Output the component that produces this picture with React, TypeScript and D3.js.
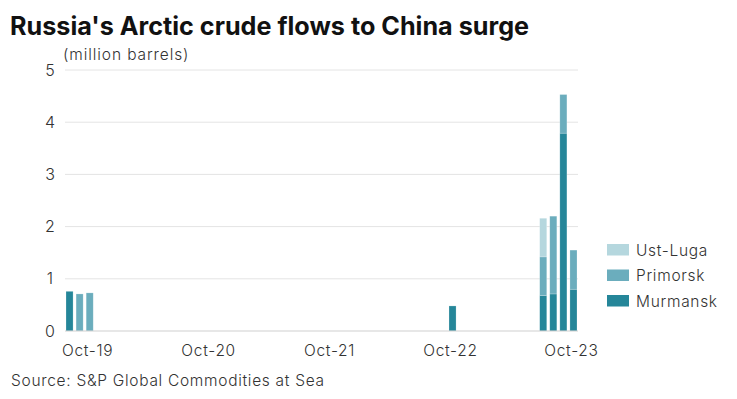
import * as d3 from "d3";
import React, { useEffect, useRef } from "react";

// Meses con flujos (el resto vale cero).
const months = ["2019-08", "2019-09", "2019-10", "2022-10", "2023-07", "2023-08", "2023-09", "2023-10"];
const murmansk = [0.76, 0, 0, 0.48, 0.68, 0.71, 3.79, 0.8];
const primorsk = [0, 0.71, 0.73, 0, 0.74, 1.49, 0.74, 0.75];
const ustLuga = [0, 0, 0, 0, 0.74, 0, 0, 0];

const seriesNames = ["Murmansk", "Primorsk", "Ust-Luga"];
const colors = ["#258699", "#6badbd", "#b5d7de"];
const tickLabels = ["Oct-19", "Oct-20", "Oct-21", "Oct-22", "Oct-23"];
const yTicks = [0, 1, 2, 3, 4, 5];

export default function App() {
  const ref = useRef<SVGSVGElement>(null);

  useEffect(() => {
    const width = 737;
    const height = 399;
    const margin = { top: 70, right: 159, bottom: 68, left: 65 };
    const font = "Inter, Roboto, sans-serif";
    const spacing = 0.7; // El texto de la fuente original es más espaciado.

    const svg = d3.select(ref.current);
    svg.selectAll("*").remove();

    // Todos los meses de Aug-19 a Oct-23.
    const parse = d3.timeParse("%Y-%m");
    const fmt = d3.timeFormat("%Y-%m");
    const allMonths = d3.timeMonth.range(parse("2019-08")!, parse("2023-11")!).map(fmt);

    const table = allMonths.map((m) => {
      const i = months.indexOf(m);
      return {
        month: m,
        Murmansk: i < 0 ? 0 : murmansk[i],
        Primorsk: i < 0 ? 0 : primorsk[i],
        "Ust-Luga": i < 0 ? 0 : ustLuga[i],
      };
    });

    const x = d3
      .scaleBand()
      .domain(allMonths)
      .range([margin.left, width - margin.right])
      .paddingInner(0.3)
      .paddingOuter(0.1);
    const y = d3.scaleLinear().domain([0, 5]).range([height - margin.bottom, margin.top]);

    const stack = d3.stack<any>().keys(seriesNames)(table);

    // Título.
    svg
      .append("text")
      .attr("x", 10)
      .attr("y", 35)
      .attr("font-family", font)
      .attr("font-weight", 700)
      .attr("font-size", 25.2)
      .attr("fill", "#111")
      .text("Russia's Arctic crude flows to China surge");

    svg
      .append("text")
      .attr("x", 63)
      .attr("y", 60)
      .attr("font-family", font)
      .attr("font-weight", 300)
      .attr("font-size", 15.5)
      .attr("letter-spacing", 0.9)
      .attr("fill", "#333")
      .text("(million barrels)");

    // Líneas de la cuadrícula.
    const grid = svg.append("g");
    grid
      .selectAll("line")
      .data(yTicks.filter((d) => d > 0))
      .join("line")
      .attr("x1", margin.left)
      .attr("x2", width - margin.right)
      .attr("y1", (d) => y(d))
      .attr("y2", (d) => y(d))
      .attr("stroke", "#e4e4e4");

    grid
      .selectAll("text")
      .data(yTicks)
      .join("text")
      .attr("x", 50)
      .attr("y", (d) => y(d) + 5.5)
      .attr("text-anchor", "middle")
      .attr("font-family", font)
      .attr("font-weight", 300)
      .attr("font-size", 16)
      .attr("fill", "#333")
      .text((d) => d);

    // Barras apiladas.
    svg
      .append("g")
      .selectAll("g")
      .data(stack)
      .join("g")
      .attr("fill", (_, i) => colors[i])
      .selectAll("rect")
      .data((d) => d.filter((p) => p[1] - p[0] > 0))
      .join("rect")
      .attr("x", (d) => x(d.data.month)!)
      .attr("y", (d) => y(d[1]))
      .attr("width", x.bandwidth())
      .attr("height", (d) => y(d[0]) - y(d[1]))
      .attr("stroke", "#ffffff")
      .attr("stroke-opacity", 0.35)
      .attr("stroke-width", 0.6);

    // Eje x.
    svg
      .append("line")
      .attr("x1", margin.left)
      .attr("x2", width - margin.right)
      .attr("y1", y(0))
      .attr("y2", y(0))
      .attr("stroke", "#cfcfcf");

    const tickMonths = ["2019-10", "2020-10", "2021-10", "2022-10", "2023-10"];
    svg
      .append("g")
      .selectAll("text")
      .data(tickMonths)
      .join("text")
      .attr("x", (d) => x(d)! + x.bandwidth() / 2 - 2)
      .attr("y", 356)
      .attr("text-anchor", "middle")
      .attr("font-family", font)
      .attr("font-weight", 300)
      .attr("font-size", 15.5)
      .attr("letter-spacing", spacing)
      .attr("fill", "#333")
      .text((_, i) => tickLabels[i]);

    // Leyenda.
    const legendOrder = ["Ust-Luga", "Primorsk", "Murmansk"];
    const legend = svg
      .append("g")
      .selectAll("g")
      .data(legendOrder)
      .join("g")
      .attr("transform", (_, i) => `translate(607,${244 + i * 25.5})`);
    legend
      .append("rect")
      .attr("width", 22)
      .attr("height", 11.5)
      .attr("fill", (d) => colors[seriesNames.indexOf(d)]);
    legend
      .append("text")
      .attr("x", 29)
      .attr("y", 11.5)
      .attr("font-family", font)
      .attr("font-weight", 300)
      .attr("font-size", 15.5)
      .attr("letter-spacing", spacing)
      .attr("fill", "#333")
      .text((d) => d);

    svg
      .append("text")
      .attr("x", 11)
      .attr("y", 386)
      .attr("font-family", font)
      .attr("font-weight", 300)
      .attr("font-size", 15.5)
      .attr("letter-spacing", spacing)
      .attr("fill", "#333")
      .text("Source: S&P Global Commodities at Sea");
  }, []);

  return (
    <svg
      ref={ref}
      width={737}
      height={399}
      style={{ position: "absolute", left: 0, top: 0, background: "#fff" }}
    />
  );
}
